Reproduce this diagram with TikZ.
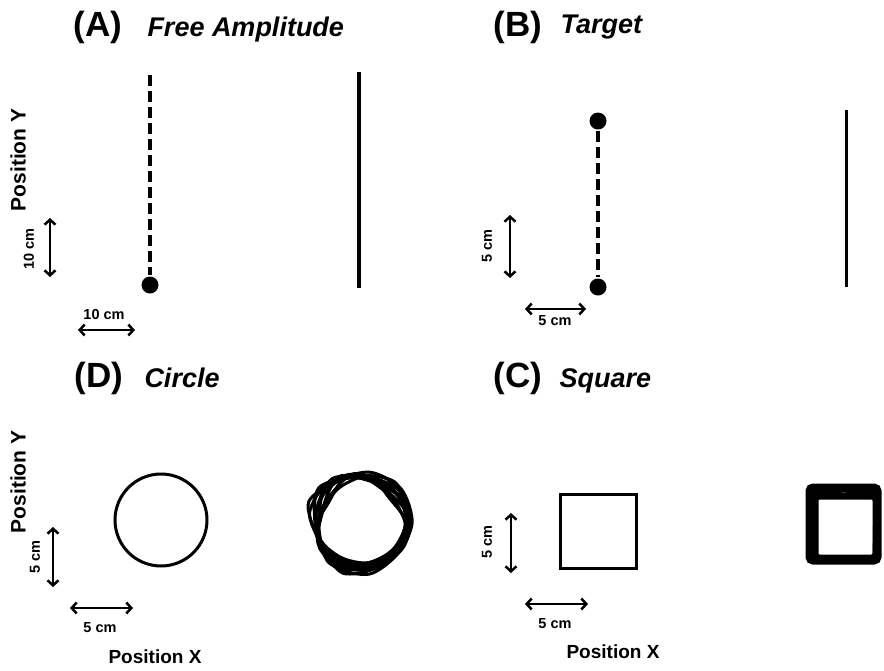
\documentclass[tikz,border=0pt]{standalone}
\usepackage{fontspec}
\setmainfont{Liberation Sans}
\usetikzlibrary{arrows.meta}

\begin{document}
\begin{tikzpicture}[x=1pt, y=-1pt, every node/.style={inner sep=0pt}, every path/.style={line width=3pt},
    panellabel/.style={anchor=base west, font=\fontsize{35}{38}\selectfont\bfseries},
    paneltitle/.style={anchor=base west, font=\fontsize{27}{30}\selectfont\bfseries\itshape},
    axislabel/.style={font=\fontsize{19}{22}\selectfont\bfseries},
    axislabelY/.style={rotate=90, font=\fontsize{21}{24}\selectfont\bfseries},
    scalelabel/.style={font=\fontsize{14.5}{16}\selectfont\bfseries},
    scalebar/.style={line width=2.5pt, {Straight Barb[length=5pt,width=11pt]}-{Straight Barb[length=5pt,width=11pt]}},
    trace/.style={line width=3.5pt, dash pattern=on 11pt off 5pt},
    scribble/.style={line width=3pt},
    thickbox/.style={line width=7pt, rounded corners=4pt},
    dot/.style={circle, fill=black, minimum size=17pt}]

    \useasboundingbox (0,0) rectangle (884,670);

    \node[panellabel] (labA) at (72,36) {(A)};
    \node[paneltitle] (titA) at (146,36) {Free Amplitude};
    \node[panellabel] (labB) at (492,36) {(B)};
    \node[paneltitle] (titB) at (559,33) {Target};
    \node[panellabel] (labD) at (73,387) {(D)};
    \node[paneltitle] (titD) at (143,387) {Circle};
    \node[panellabel] (labC) at (492,387) {(C)};
    \node[paneltitle] (titC) at (558,387) {Square};

    \node[axislabelY] (posYa) at (18,160) {Position Y};
    \node[axislabelY] (posYd) at (18,482) {Position Y};
    \node[axislabel] (posXd) at (155,657) {Position X};
    \node[axislabel] (posXc) at (613,652) {Position X};

    \coordinate (aTop) at (150,75);
    \node[dot] (aDot) at (150,285) {};
    \draw[trace] (aTop) -- (aDot);
    \coordinate (aRtop) at (359,72);
    \coordinate (aRbot) at (359,288);
    \draw[line width=4pt] (aRtop) -- (aRbot);

    \node[dot] (bDot1) at (598,121) {};
    \node[dot] (bDot2) at (598,287) {};
    \draw[trace] (bDot1) -- (bDot2);
    \coordinate (bRtop) at (846,110);
    \coordinate (bRbot) at (846,287);
    \draw (bRtop) -- (bRbot);

    \coordinate (aV1) at (50,218);
    \coordinate (aV2) at (50,277);
    \draw[scalebar] (aV1) -- (aV2);
    \node[scalelabel, rotate=90] (aVlab) at (29,249) {10 cm};
    \coordinate (aH1) at (78,330);
    \coordinate (aH2) at (135,330);
    \draw[scalebar] (aH1) -- (aH2);
    \node[scalelabel] (aHlab) at (104,315) {10 cm};

    \coordinate (bV1) at (510,215);
    \coordinate (bV2) at (510,278);
    \draw[scalebar] (bV1) -- (bV2);
    \node[scalelabel, rotate=90] (bVlab) at (487,246) {5 cm};
    \coordinate (bH1) at (525,309);
    \coordinate (bH2) at (586,309);
    \draw[scalebar] (bH1) -- (bH2);
    \node[scalelabel] (bHlab) at (555,321) {5 cm};

    \coordinate (dV1) at (53,527);
    \coordinate (dV2) at (53,587);
    \draw[scalebar] (dV1) -- (dV2);
    \node[scalelabel, rotate=90] (dVlab) at (35,557) {5 cm};
    \coordinate (dH1) at (70,608);
    \coordinate (dH2) at (133,608);
    \draw[scalebar] (dH1) -- (dH2);
    \node[scalelabel] (dHlab) at (100,628) {5 cm};

    \coordinate (cV1) at (511,513);
    \coordinate (cV2) at (511,573);
    \draw[scalebar] (cV1) -- (cV2);
    \node[scalelabel, rotate=90] (cVlab) at (487,542) {5 cm};
    \coordinate (cH1) at (525,604);
    \coordinate (cH2) at (588,604);
    \draw[scalebar] (cH1) -- (cH2);
    \node[scalelabel] (cHlab) at (555,624) {5 cm};

    \node[circle, draw, line width=3pt, minimum size=92pt] (circ) at (161,520) {};
    \node[draw, line width=3pt, minimum width=76pt, minimum height=74pt] (sq) at (598,531) {};

    \begin{scope}[shift={(361,522)}]
        \foreach \k in {0,...,11}
            \draw[scribble] plot[smooth cycle, samples=9, domain=0:320]
                (\x+11*\k:{42+0.8*\k+3*sin(3*\x+50*\k)+2.5*cos(4*\x+70*\k)});
    \end{scope}

    \draw[thickbox] (809,487) rectangle (878,561);
    \draw[thickbox] (815,496) rectangle (876,558);
    \draw[thickbox] (812,491) -- (845,489) -- (877,492) -- (876,559) -- (811,560) -- cycle;

\end{tikzpicture}
\end{document}
